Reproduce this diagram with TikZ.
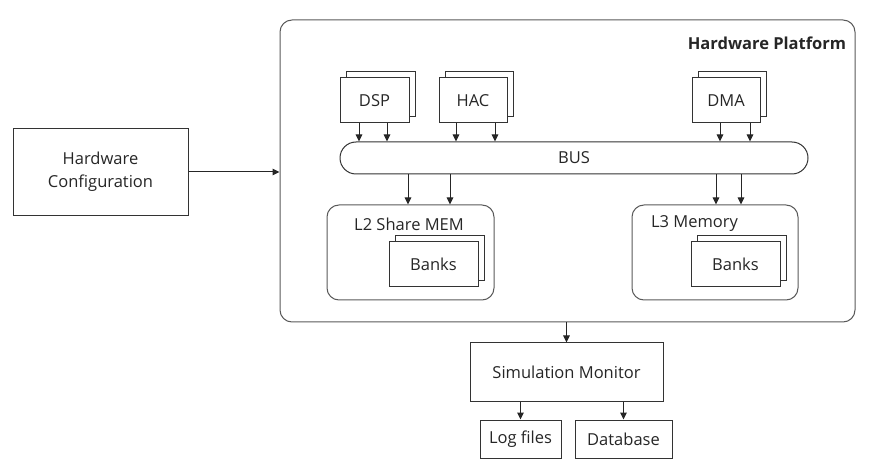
\documentclass[tikz,border=0pt]{standalone}
\usepackage{fontspec}
\setmainfont{Open Sans}
\usepackage{tikz}
\usetikzlibrary{arrows.meta, positioning, shadows}

\begin{document}
\begin{tikzpicture}[
      x=1pt, y=-1pt,
      font=\fontsize{16.5}{23}\selectfont,
      >={Triangle[length=7pt,width=6.5pt]},
      line width=1pt,
      every node/.style={text=black!85},
      box/.style={
        rectangle,
        draw=black!80,
        fill=white,
        align=center,
        inner sep=2pt
      },
      stack/.style={
        box,
        copy shadow={shadow xshift=6.5pt, shadow yshift=6.5pt, draw=black!80, fill=white}
      },
      group/.style={
        rectangle,
        draw=black!65,
        rounded corners=12pt
      },
      arr/.style={->, draw=black!85}
    ]
    \useasboundingbox (0,0) rectangle (871,465);
    % platform
    \node[group, minimum width=575pt, minimum height=302pt] (hw) at (567.5,171) {};
    \node[anchor=east, font=\fontsize{16.5}{20}\selectfont\bfseries] (hwtitle) at (850,43) {Hardware Platform};
    % processing units
    \node[stack, minimum width=69pt, minimum height=45pt] (dsp) at (374.5,100.5) {DSP};
    \node[stack, minimum width=68pt, minimum height=45pt] (hac) at (473,100.5) {HAC};
    \node[stack, minimum width=68pt, minimum height=45pt] (dma) at (726,100.5) {DMA};
    \node[box, rounded corners=16pt, minimum width=468pt, minimum height=32pt] (bus) at (574,158) {BUS};
    % memories
    \node[group, minimum width=167pt, minimum height=95pt] (l2) at (410.5,252.5) {};
    \node (l2title) at (409,224) {L2 Share MEM};
    \node[stack, minimum width=89pt, minimum height=45pt] (l2banks) at (433.5,264.5) {Banks};
    \node[group, minimum width=166pt, minimum height=95pt] (l3) at (715,252.5) {};
    \node (l3title) at (694.5,224) {L3 Memory};
    \node[stack, minimum width=89pt, minimum height=45pt] (l3banks) at (735.5,264.5) {Banks};
    % outside
    \node[box, minimum width=175pt, minimum height=87pt] (cfg) at (100.5,172) {Hardware\\Configuration};
    \node[box, minimum width=193pt, minimum height=58pt] (sim) at (566.5,372) {Simulation Monitor};
    \node[box, minimum width=81pt, minimum height=38pt] (log) at (520.5,439) {Log files};
    \node[box, minimum width=97pt, minimum height=38pt] (db) at (623.5,439) {Database};
    % connectors
    \draw[arr] ([xshift=-15.5pt]dsp.south) -- ([xshift=-15.5pt]dsp.south |- bus.north);
    \draw[arr] ([xshift=12.5pt]dsp.south) -- ([xshift=12.5pt]dsp.south |- bus.north);
    \draw[arr] ([xshift=-17pt]hac.south) -- ([xshift=-17pt]hac.south |- bus.north);
    \draw[arr] ([xshift=22pt]hac.south) -- ([xshift=22pt]hac.south |- bus.north);
    \draw[arr] ([xshift=-6pt]dma.south) -- ([xshift=-6pt]dma.south |- bus.north);
    \draw[arr] ([xshift=24pt]dma.south) -- ([xshift=24pt]dma.south |- bus.north);
    \draw[arr] ([xshift=-2.5pt]l2.north |- bus.south) -- ([xshift=-2.5pt]l2.north);
    \draw[arr] ([xshift=39.5pt]l2.north |- bus.south) -- ([xshift=39.5pt]l2.north);
    \draw[arr] ([xshift=1pt]l3.north |- bus.south) -- ([xshift=1pt]l3.north);
    \draw[arr] ([xshift=26pt]l3.north |- bus.south) -- ([xshift=26pt]l3.north);
    \draw[arr] (cfg.east) -- (cfg.east -| hw.west);
    \draw[arr] (hw.south -| sim.north) -- (sim.north);
    \draw[arr] (log.north |- sim.south) -- (log.north);
    \draw[arr] (db.north |- sim.south) -- (db.north);
  \end{tikzpicture}
\end{document}
